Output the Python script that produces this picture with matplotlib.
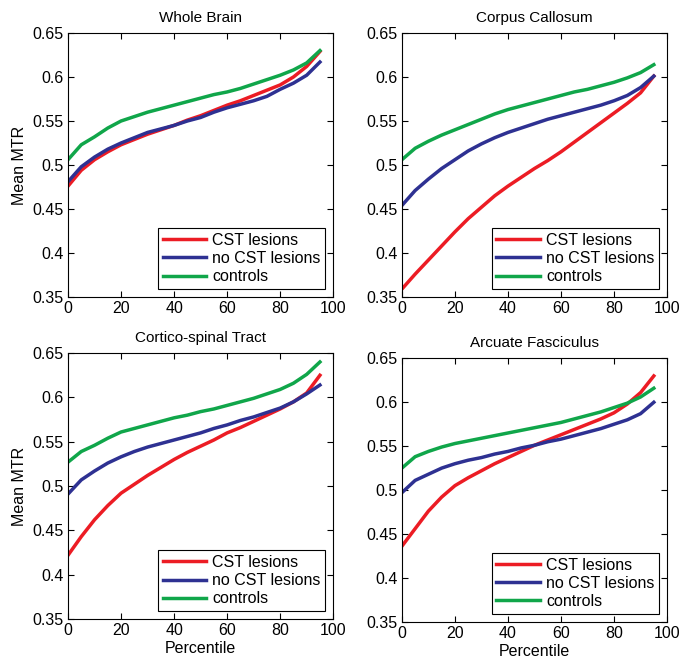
import numpy as np
import matplotlib
matplotlib.use("Agg")
import matplotlib.pyplot as plt
from matplotlib.ticker import FuncFormatter

plt.rcParams['font.family'] = ['Liberation Sans', 'DejaVu Sans']

percentile = [0, 5, 10, 15, 20, 25, 30, 35, 40, 45, 50, 55, 60, 65, 70, 75, 80, 85, 90, 95]
series_names = ["CST lesions", "no CST lesions", "controls"]
series_colors = ["#ec1c24", "#2e3192", "#10a64a"]

# Whole Brain
wb_cst = [0.476, 0.494, 0.506, 0.515, 0.523, 0.529, 0.535, 0.540, 0.545, 0.551,
          0.556, 0.562, 0.568, 0.573, 0.579, 0.585, 0.591, 0.600, 0.612, 0.629]
wb_nocst = [0.481, 0.498, 0.509, 0.518, 0.525, 0.531, 0.537, 0.541, 0.545, 0.550,
            0.554, 0.560, 0.565, 0.569, 0.573, 0.578, 0.586, 0.593, 0.602, 0.617]
wb_ctrl = [0.506, 0.523, 0.532, 0.542, 0.550, 0.555, 0.560, 0.564, 0.568, 0.572,
           0.576, 0.580, 0.583, 0.587, 0.592, 0.597, 0.602, 0.608, 0.616, 0.630]

# Corpus Callosum
cc_cst = [0.359, 0.376, 0.392, 0.408, 0.424, 0.439, 0.452, 0.465, 0.476, 0.486,
          0.496, 0.505, 0.515, 0.526, 0.537, 0.548, 0.559, 0.570, 0.582, 0.601]
cc_nocst = [0.454, 0.471, 0.484, 0.496, 0.506, 0.516, 0.524, 0.531, 0.537, 0.542,
            0.547, 0.552, 0.556, 0.560, 0.564, 0.568, 0.573, 0.579, 0.588, 0.601]
cc_ctrl = [0.506, 0.519, 0.527, 0.534, 0.540, 0.546, 0.552, 0.558, 0.563, 0.567,
           0.571, 0.575, 0.579, 0.583, 0.586, 0.590, 0.594, 0.599, 0.605, 0.614]

# Cortico-spinal Tract
cst_cst = [0.422, 0.443, 0.462, 0.478, 0.492, 0.502, 0.512, 0.521, 0.530, 0.538,
           0.545, 0.552, 0.560, 0.566, 0.573, 0.580, 0.587, 0.595, 0.605, 0.625]
cst_nocst = [0.491, 0.507, 0.517, 0.526, 0.533, 0.539, 0.544, 0.548, 0.552, 0.556,
             0.560, 0.565, 0.569, 0.574, 0.578, 0.583, 0.588, 0.595, 0.604, 0.614]
cst_ctrl = [0.527, 0.539, 0.546, 0.554, 0.561, 0.565, 0.569, 0.573, 0.577, 0.580,
            0.584, 0.587, 0.591, 0.595, 0.599, 0.604, 0.609, 0.616, 0.626, 0.640]

# Arcuate Fasciculus
af_cst = [0.436, 0.456, 0.476, 0.492, 0.505, 0.514, 0.522, 0.530, 0.537, 0.544,
          0.551, 0.557, 0.563, 0.569, 0.575, 0.581, 0.588, 0.598, 0.611, 0.630]
af_nocst = [0.497, 0.511, 0.518, 0.525, 0.530, 0.534, 0.537, 0.541, 0.544, 0.548,
            0.551, 0.555, 0.558, 0.562, 0.566, 0.570, 0.575, 0.580, 0.587, 0.600]
af_ctrl = [0.525, 0.538, 0.544, 0.549, 0.553, 0.556, 0.559, 0.562, 0.565, 0.568,
           0.571, 0.574, 0.577, 0.581, 0.585, 0.589, 0.594, 0.599, 0.606, 0.616]

panels = [
    ("Whole Brain", [wb_cst, wb_nocst, wb_ctrl], [0.100, 0.550, 0.390, 0.400]),
    ("Corpus Callosum", [cc_cst, cc_nocst, cc_ctrl], [0.591, 0.550, 0.390, 0.400]),
    ("Cortico-spinal Tract", [cst_cst, cst_nocst, cst_ctrl], [0.100, 0.062, 0.390, 0.403]),
    ("Arcuate Fasciculus", [af_cst, af_nocst, af_ctrl], [0.591, 0.058, 0.390, 0.399]),
]

fig = plt.figure(figsize=(6.8, 6.6), dpi=100)

for i, (title, data, pos) in enumerate(panels):
    ax = fig.add_axes(pos)
    for vals, name, col in zip(data, series_names, series_colors):
        ax.plot(percentile, vals, color=col, linewidth=2.5, label=name)
    ax.set_xlim(0, 100)
    ax.set_ylim(0.35, 0.65)
    ax.set_xticks([0, 20, 40, 60, 80, 100])
    ax.set_yticks(np.arange(0.35, 0.651, 0.05))
    ax.yaxis.set_major_formatter(FuncFormatter(lambda v, p: "%g" % round(v, 2)))
    ax.tick_params(direction="in", top=True, right=True, labelsize=11.5, length=4, pad=3)
    for s in ax.spines.values():
        s.set_linewidth(0.8)
    ax.set_title(title, fontsize=11, pad=8)
    if i % 2 == 0:
        ax.set_ylabel("Mean MTR", fontsize=11.5)
    if i >= 2:
        ax.set_xlabel("Percentile", fontsize=11.5, labelpad=2)
    leg = ax.legend(loc="lower right", fontsize=11.5, fancybox=False, framealpha=1,
                    edgecolor="black", handlelength=2.7, borderpad=0.3,
                    labelspacing=0.2, handletextpad=0.4, borderaxespad=0.5)
    leg.get_frame().set_linewidth(0.8)

fig.savefig("out.png", dpi=100)
